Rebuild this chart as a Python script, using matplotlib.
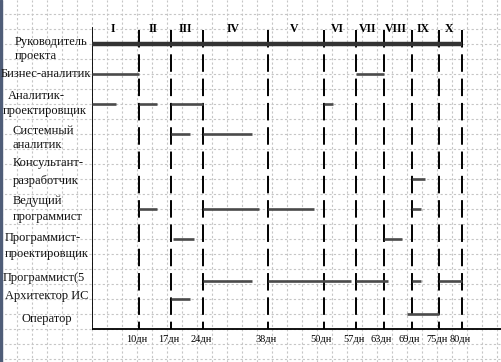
import matplotlib
matplotlib.use("Agg")
import matplotlib.pyplot as plt

plt.rcParams["font.family"] = ["Liberation Serif", "DejaVu Serif"]

# ----- DATA -----
stages = ["I", "II", "III", "IV", "V", "VI", "VII", "VIII", "IX", "X"]
stage_ends = [10, 17, 24, 38, 50, 57, 63, 69, 75, 80]

lead = [(0, 80)]
business = [(0, 10), (57, 63)]
analyst_designer = [(0, 5), (10, 14), (17, 24), (50, 52)]
system_analyst = [(17, 21), (24, 34.5)]
consultant = [(69, 72)]
lead_dev = [(10, 14), (24, 36), (38, 48), (69, 71)]
dev_designer = [(17.5, 22), (63, 67)]
programmers = [(24, 34.5), (38, 56), (57, 64), (69, 71), (75, 80)]
architect = [(17, 21)]
operator = [(68, 75)]

rows = [lead, business, analyst_designer, system_analyst, consultant,
        lead_dev, dev_designer, programmers, architect, operator]

# ----- LAYOUT (pixels from top) -----
W, H = 502, 362
x0, px_per_day = 92.5, 4.625
row_y = [44, 74, 104, 134, 179, 209, 239, 281, 299, 314]
label_lines = [
    ("Руководитель", 15, 42, "left"), ("проекта", 15, 56, "left"),
    ("Бизнес-аналитик", 91, 74, "right"),
    ("Аналитик-", 8, 96, "left"), ("проектировщик", 3, 111, "left"),
    ("Системный", 13, 131, "left"), ("аналитик", 13, 145, "left"),
    ("Консультант-", 13, 163, "left"), ("разработчик", 13, 181, "left"),
    ("Ведущий", 13, 201, "left"), ("программист", 13, 217, "left"),
    ("Программист-", 5, 238, "left"), ("проектировщик", 5, 254, "left"),
    ("Программист(5", 3, 278, "left"),
    ("Архитектор ИС", 5, 296, "left"),
    ("Оператор", 22, 319, "left"),
]

fig = plt.figure(figsize=(W / 100, H / 100), dpi=100)
fig.patch.set_facecolor("white")

# background grid + labels in pixel coords
bg = fig.add_axes([0, 0, 1, 1])
bg.set_xlim(0, W)
bg.set_ylim(H, 0)
bg.axis("off")
for gx in range(2, W, 15):
    bg.axvline(gx, color="#c6c6c6", lw=0.8, ls=(0, (2, 2)), zorder=0)
for gy in range(14, H, 15):
    bg.axhline(gy, color="#c6c6c6", lw=0.8, ls=(0, (2, 2)), zorder=0)
bg.axvspan(0, 2.5, color="#4f5d78", zorder=1)

for txt, tx, ty, ha in label_lines:
    bg.text(tx, ty, txt, ha=ha, va="center", fontsize=9, color="#111111")

# chart area: x in days, y in pixels
ax = fig.add_axes([x0 / W, 0, (W - x0) / W, 1])
ax.set_xlim(0, (W - x0) / px_per_day)
ax.set_ylim(H, 0)
ax.axis("off")
ax.patch.set_alpha(0)

ax.plot([0, 0], [28, 329], color="black", lw=1.3)
ax.axhline(329, color="black", lw=1.3)

prev = 0
for name, end in zip(stages, stage_ends):
    ax.plot([end, end], [30, 329], color="black", lw=1.4, ls=(0, (9, 3.5)))
    ax.text((prev + end) / 2 - 0.5, 29, name, ha="center", va="center",
            fontsize=8.5, fontweight="bold")
    ax.text(end - 0.5, 339, f"{end}дн", ha="center", va="center", fontsize=7.5)
    prev = end

for i, (segs, y) in enumerate(zip(rows, row_y)):
    for s, e in segs:
        ax.plot([s, e], [y, y], color="#333333" if i == 0 else "#4a4a4a",
                lw=3.2 if i == 0 else 1.9, solid_capstyle="butt")

fig.savefig("out.png", dpi=100)
